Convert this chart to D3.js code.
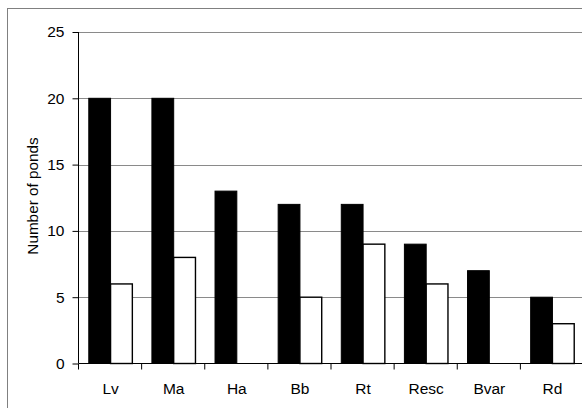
<!DOCTYPE html>
<html><head><meta charset="utf-8">
<script src="https://cdn.jsdelivr.net/npm/d3@7/dist/d3.min.js"></script>
<style>body{margin:0;background:#fff}svg{display:block}text{font-family:"Liberation Sans",Arial,sans-serif;fill:#000}</style>
</head><body><svg id="c" width="582" height="408"></svg>
<script>
const categories = ["Lv","Ma","Ha","Bb","Rt","Resc","Bvar","Rd"];
const seriesA = [20,20,13,12,12,9,7,5];
const seriesB = [6,8,0,5,9,6,0,3];
const yTicks = [0,5,10,15,20,25];

const svg = d3.select("#c");
const m = {left:79, top:32, right:584, bottom:363.5};
svg.append("rect").attr("x",7.5).attr("y",8.5).attr("width",600).attr("height",500)
  .attr("fill","none").attr("stroke","#808080").attr("stroke-width",1);

const x = d3.scaleBand().domain(categories).range([m.left,m.right]).paddingInner(0.31).paddingOuter(0.155);
const y = d3.scaleLinear().domain([0,25]).range([m.bottom,m.top]);

// gridlines
svg.append("g").selectAll("line").data(yTicks.filter(d=>d>0)).join("line")
  .attr("x1",m.left).attr("x2",m.right).attr("y1",d=>Math.round(y(d))+0.5).attr("y2",d=>Math.round(y(d))+0.5)
  .attr("stroke","#8a8a8a").attr("stroke-width",1);

const bw = x.bandwidth()/2;
const g = svg.append("g");
g.selectAll("rect.a").data(categories).join("rect").attr("class","a")
  .attr("x",(d,i)=>x(d)).attr("width",bw)
  .attr("y",(d,i)=>y(seriesA[i])).attr("height",(d,i)=>y(0)-y(seriesA[i]))
  .attr("fill","#000").attr("stroke","#000").attr("stroke-width",1);
g.selectAll("rect.b").data(categories).join("rect").attr("class","b")
  .attr("x",(d,i)=>x(d)+bw).attr("width",bw)
  .attr("y",(d,i)=>y(seriesB[i])).attr("height",(d,i)=>y(0)-y(seriesB[i]))
  .attr("fill","#fff").attr("stroke","#000").attr("stroke-width",1.4)
  .attr("display",(d,i)=>seriesB[i]>0?null:"none");

// y axis
const ya = svg.append("g").attr("transform",`translate(${m.left-0.5},0)`)
  .call(d3.axisLeft(y).tickValues(yTicks).tickSize(6).tickPadding(8).tickFormat(d3.format("d")));
ya.selectAll(".domain").attr("stroke","#000").attr("d",`M0,${m.top}V${m.bottom}`);
ya.selectAll(".tick line").attr("stroke","#000");
ya.selectAll(".tick text").attr("font-size",15.5).attr("font-family","Liberation Sans, Arial, sans-serif").attr("fill","#000");

// x axis
const xa = svg.append("g").attr("transform",`translate(0,${m.bottom})`);
xa.append("line").attr("x1",m.left).attr("x2",m.right).attr("stroke","#000");
xa.selectAll("line.t").data(d3.range(categories.length+1)).join("line").attr("class","t")
  .attr("x1",i=>m.left-0.5+i*(m.right-m.left)/categories.length).attr("x2",i=>m.left-0.5+i*(m.right-m.left)/categories.length)
  .attr("y1",0).attr("y2",6).attr("stroke","#000");
xa.selectAll("text").data(categories).join("text")
  .attr("x",d=>x(d)+x.bandwidth()/2).attr("y",30).attr("text-anchor","middle").attr("font-size",15.5).text(d=>d);

svg.append("text").attr("transform","translate(38,196) rotate(-90)").attr("text-anchor","middle")
  .attr("font-size",15.3).text("Number of ponds");
</script></body></html>
